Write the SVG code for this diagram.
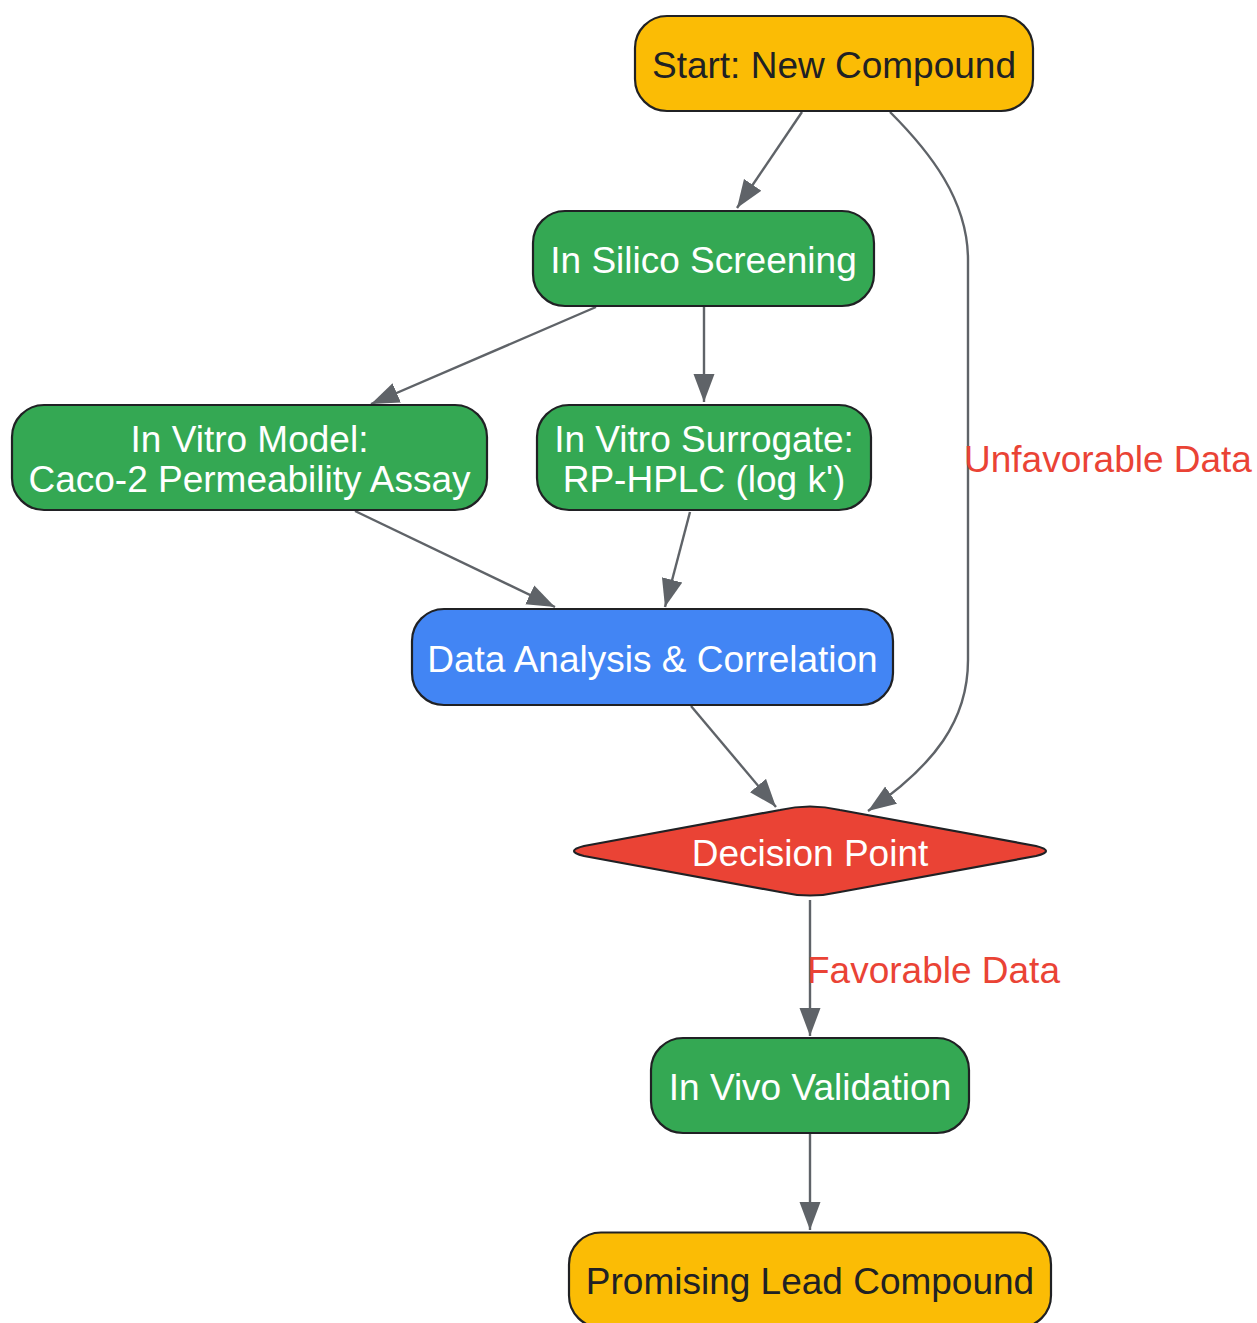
<svg xmlns="http://www.w3.org/2000/svg" width="1257" height="1323" viewBox="0 0 1257 1323">
<style>
.n{stroke:#202124;stroke-width:2.2}
.y{fill:#FBBC05}.g{fill:#34A853}.b{fill:#4285F4}.r{fill:#EA4335}
text{font-family:"Liberation Sans",Arial,sans-serif;font-size:37px;text-anchor:middle}
.dk{fill:#202124}.wt{fill:#FFFFFF}
.lbl{fill:#EA4335;text-anchor:start}
.e{fill:none;stroke:#5F6368;stroke-width:2.4}
</style>
<defs>
<marker id="a" viewBox="-28 -11 28 22" refX="0" refY="0" markerWidth="28" markerHeight="22" markerUnits="userSpaceOnUse" orient="auto">
<path d="M-28,-10.5 L0,0 L-28,10.5 Z" fill="#5F6368"/>
</marker>
</defs>
<g id="edges">
<path class="e" d="M802,112 L737,208" marker-end="url(#a)"/>
<path class="e" d="M890,112 C930,152 968,200 968,260 L968,660 C968,720 935,765 868,811" marker-end="url(#a)"/>
<path class="e" d="M596,307 L371,404" marker-end="url(#a)"/>
<path class="e" d="M704,307 L704,402" marker-end="url(#a)"/>
<path class="e" d="M355,511 L555,607" marker-end="url(#a)"/>
<path class="e" d="M690,512 L665,607" marker-end="url(#a)"/>
<path class="e" d="M691,706 L776,807" marker-end="url(#a)"/>
<path class="e" d="M810,900 L810,1036" marker-end="url(#a)"/>
<path class="e" d="M810,1134 L810,1230" marker-end="url(#a)"/>
<text class="lbl" x="964" y="472">Unfavorable Data</text>
<text class="lbl" x="807" y="983">Favorable Data</text>
</g>
<g id="start">
<rect class="n y" x="635" y="16" width="398" height="95" rx="32"/>
<text class="dk" x="834" y="78">Start: New Compound</text>
</g>
<g id="insilico">
<rect class="n g" x="533" y="211" width="341" height="95" rx="32"/>
<text class="wt" x="703.5" y="273">In Silico Screening</text>
</g>
<g id="invitro">
<rect class="n g" x="12" y="405" width="475" height="105" rx="32"/>
<text class="wt" x="249.5" y="452">In Vitro Model:</text>
<text class="wt" x="249.5" y="492">Caco-2 Permeability Assay</text>
</g>
<g id="surrogate">
<rect class="n g" x="537" y="405" width="334" height="105" rx="32"/>
<text class="wt" x="704" y="452">In Vitro Surrogate:</text>
<text class="wt" x="704" y="492">RP-HPLC (log k')</text>
</g>
<g id="analysis">
<rect class="n b" x="412" y="609" width="481" height="96" rx="32"/>
<text class="wt" x="652.5" y="672">Data Analysis &amp; Correlation</text>
</g>
<g id="decision">
<path class="n r" d="M780,810 Q810,803 840,810 L1036,846 Q1056,851 1036,856 L840,892 Q810,899 780,892 L584,856 Q564,851 584,846 Z"/>
<text class="wt" x="810" y="866">Decision Point</text>
</g>
<g id="invivo">
<rect class="n g" x="651" y="1038" width="318" height="95" rx="32"/>
<text class="wt" x="810" y="1100">In Vivo Validation</text>
</g>
<g id="lead">
<rect class="n y" x="569" y="1232.5" width="482" height="95" rx="32"/>
<text class="dk" x="810" y="1294">Promising Lead Compound</text>
</g>
</svg>
